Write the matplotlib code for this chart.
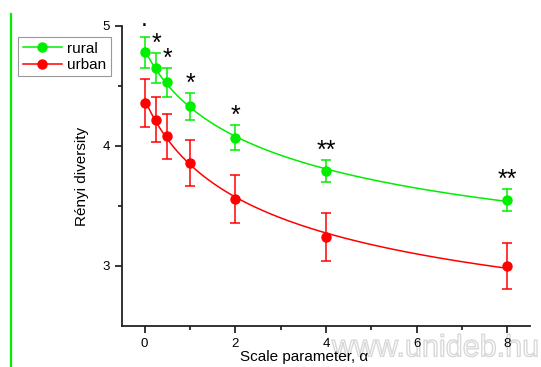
import numpy as np
import matplotlib
matplotlib.use("Agg")
import matplotlib.pyplot as plt
from matplotlib.lines import Line2D
import matplotlib.patheffects as pe

plt.rcParams['font.family'] = ['Liberation Sans', 'DejaVu Sans']

# values
alpha = [0, 0.25, 0.5, 1, 2, 4, 8]
rural = [4.78, 4.65, 4.53, 4.33, 4.07, 3.79, 3.55]
rural_err = [0.13, 0.125, 0.12, 0.11, 0.105, 0.09, 0.09]
urban = [4.36, 4.22, 4.08, 3.86, 3.56, 3.245, 3.00]
urban_err = [0.20, 0.19, 0.19, 0.19, 0.20, 0.20, 0.195]
signif = ['.', '*', '*', '*', '*', '**', '**']

GREEN = '#00ee00'
RED = '#ff0000'


def fit_curve(x, y, xs):
    """Least squares fit y = a + b*(1+x)^-p, p chosen by grid search."""
    x = np.asarray(x, float)
    y = np.asarray(y, float)
    best = None
    for p in np.linspace(0.05, 3, 300):
        A = np.column_stack([np.ones_like(x), (1 + x) ** -p])
        coef, *_ = np.linalg.lstsq(A, y, rcond=None)
        res = np.sum((A @ coef - y) ** 2)
        if best is None or res < best[0]:
            best = (res, p, coef)
    _, p, coef = best
    return coef[0] + coef[1] * (1 + xs) ** -p


fig = plt.figure(figsize=(5.41, 3.67), dpi=100)
ax = fig.add_axes([122 / 541, 41 / 367, 408 / 541, 300 / 367])
ax.patch.set_alpha(0)

xs = np.linspace(0, 8, 300)
for y, err, color in [(rural, rural_err, GREEN), (urban, urban_err, RED)]:
    ax.plot(xs, fit_curve(alpha, y, xs), color=color, lw=1.1)
    ax.errorbar(alpha, y, yerr=err, fmt='o', color=color, ms=6.5,
                elinewidth=1.1, capsize=3.3, capthick=1.1)

# significance marks above the rural error bars
for x, y, err, s in zip(alpha, rural, rural_err, signif):
    dy = 8 if s == '.' else 1.5
    ax.annotate(s, (x, y + err), xytext=(0, dy), textcoords='offset points',
                ha='center', va='baseline', fontsize=18, color='black')

ax.set_xlim(-0.5, 8.5)
ax.set_ylim(2.5, 5.0)
ax.set_xticks([0, 2, 4, 6, 8])
ax.set_xticks([1, 3, 5, 7], minor=True)
ax.set_yticks([3, 4, 5])
ax.set_yticks([3.5, 4.5], minor=True)
ax.spines['top'].set_visible(False)
ax.spines['right'].set_visible(False)
for sp in ('left', 'bottom'):
    ax.spines[sp].set_linewidth(1.3)
    ax.spines[sp].set_color('#222222')
ax.tick_params(which='major', direction='out', length=5, width=1.1, labelsize=9.5)
ax.tick_params(which='minor', direction='out', length=3, width=1.1)

ax.set_xlabel('Scale parameter, α', fontsize=11)
ax.xaxis.set_label_coords(0.446, -0.08)
ax.set_ylabel('Rényi diversity', fontsize=11, labelpad=10)

handles = [Line2D([], [], color=GREEN, marker='o', ms=6.5, lw=1.1),
           Line2D([], [], color=RED, marker='o', ms=6.5, lw=1.1)]
leg = fig.legend(handles, ['rural', 'urban'], loc='upper left',
                 bbox_to_anchor=(18 / 541, 1 - 37 / 367), fontsize=11,
                 fancybox=False, edgecolor='#999999', framealpha=1,
                 handlelength=2.6, handletextpad=0.3, borderpad=0.3,
                 labelspacing=0.15, borderaxespad=0)
leg.get_frame().set_linewidth(0.8)

# green rule on the left edge of the page
fig.add_artist(Line2D([11 / 541, 11 / 541], [0, 1 - 14 / 367],
                      transform=fig.transFigure, color=GREEN, lw=1.6))

# faint outlined watermark, drawn under everything
fig.text(0.995, 0.01, 'www.unideb.hu', ha='right', va='bottom', fontsize=22,
         color='none', zorder=-1,
         path_effects=[pe.withStroke(linewidth=1.0, foreground='#d8d8d8')])

fig.savefig('out.png', dpi=100)
